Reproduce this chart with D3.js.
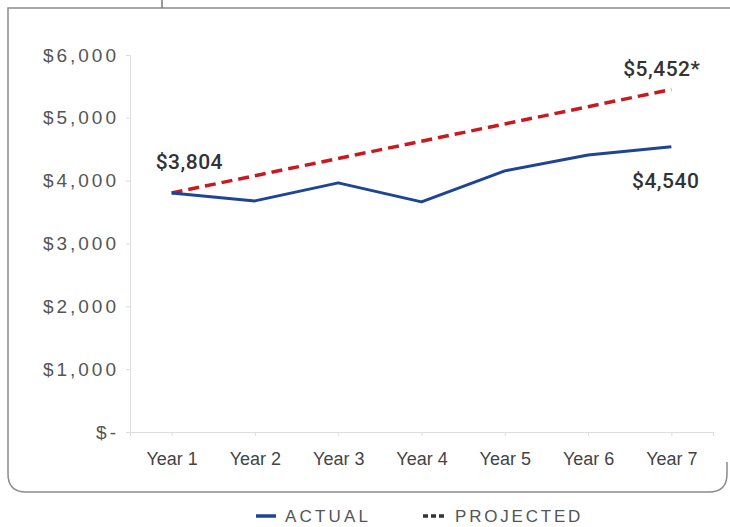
<!DOCTYPE html>
<meta charset="utf-8">
<style>
    body { margin: 0; background: #fff; }
    text { font-family: "Liberation Sans", Arial, sans-serif; }
</style>
<body>
<script src="https://cdn.jsdelivr.net/npm/d3@7"></script>
<script>

var years = ['Year 1', 'Year 2', 'Year 3', 'Year 4', 'Year 5', 'Year 6', 'Year 7'];
var actual = [3804, 3678, 3965, 3662, 4156, 4410, 4540];
var projected = [3804, 4079, 4353, 4628, 4903, 5177, 5452];
var yTicks = [0, 1000, 2000, 3000, 4000, 5000, 6000];

var width = 730, height = 527;
var blue = '#1d4594', red = '#c8191f';

var svg = d3.select('body').append('svg')
    .attr('width', width)
    .attr('height', height);

// frame round the plot
var fx0 = 8, fy0 = 8, fx1 = 727, fy1 = 492, r = 18;
svg.append('path')
    .attr('d', 'M' + width + ',' + fy0 + ' L' + fx0 + ',' + fy0 +
        ' L' + fx0 + ',' + (fy1 - r) + ' Q' + fx0 + ',' + fy1 + ' ' + (fx0 + r) + ',' + fy1 +
        ' L' + (fx1 - r) + ',' + fy1 + ' Q' + fx1 + ',' + fy1 + ' ' + fx1 + ',' + (fy1 - r) +
        ' L' + fx1 + ',' + (fy1 - 30))
    .attr('fill', 'none')
    .attr('stroke', '#8a8a8a')
    .attr('stroke-width', 1.5);
svg.append('line')
    .attr('x1', 162).attr('x2', 162).attr('y1', 0).attr('y2', fy0)
    .attr('stroke', '#777').attr('stroke-width', 1.5);

var x = d3.scalePoint()
    .domain(years)
    .range([130, 713])
    .padding(0.5);

var y = d3.scaleLinear()
    .domain([0, 6000])
    .range([432, 55]);

// y axis
var yAxis = svg.append('g')
    .attr('transform', 'translate(130,0)')
    .call(d3.axisLeft(y).tickValues(yTicks).tickSize(4).tickPadding(7)
        .tickFormat(function(d) { return d === 0 ? '$-' : '$' + d3.format(',')(d); }));
yAxis.select('.domain').attr('stroke', '#ddd');
yAxis.selectAll('.tick line').attr('stroke', '#ddd');
yAxis.selectAll('.tick text')
    .attr('fill', '#555')
    .style('font-size', '19px')
    .style('letter-spacing', '3px');

// x axis
var xAxis = svg.append('g')
    .attr('transform', 'translate(0,432)')
    .call(d3.axisBottom(x).tickSize(4).tickPadding(16));
xAxis.select('.domain').attr('stroke', '#ddd');
xAxis.selectAll('.tick line').attr('stroke', '#ddd');
xAxis.selectAll('.tick text')
    .attr('fill', '#444')
    .style('font-size', '18px');

var line = d3.line()
    .x(function(d, i) { return x(years[i]); })
    .y(function(d) { return y(d); });

svg.append('path')
    .datum(projected)
    .attr('d', line)
    .attr('fill', 'none')
    .attr('stroke', red)
    .attr('stroke-width', 3.5)
    .attr('stroke-dasharray', '11,6');

svg.append('path')
    .datum(actual)
    .attr('d', line)
    .attr('fill', 'none')
    .attr('stroke', blue)
    .attr('stroke-width', 3)
    .attr('stroke-linejoin', 'round');

// data labels
var fmt = d3.format(',');
var labels = [
    {text: '$' + fmt(actual[0]), x: x(years[0]) - 16, y: y(actual[0]) - 24, anchor: 'start'},
    {text: '$' + fmt(projected[6]) + '*', x: x(years[6]) + 29, y: y(projected[6]) - 13, anchor: 'end'},
    {text: '$' + fmt(actual[6]), x: x(years[6]) + 28, y: y(actual[6]) + 41, anchor: 'end'}
];
svg.selectAll('.dlabel')
    .data(labels)
    .enter()
    .append('text')
    .attr('class', 'dlabel')
    .attr('x', function(d) { return d.x; })
    .attr('y', function(d) { return d.y; })
    .attr('text-anchor', function(d) { return d.anchor; })
    .attr('fill', '#333')
    .style('font-family', 'Roboto, "Liberation Sans", sans-serif')
    .style('font-size', '21px')
    .style('font-weight', '500')
    .style('letter-spacing', '0.5px')
    .text(function(d) { return d.text; });

// legend
var legend = svg.append('g').attr('transform', 'translate(0,516)');
legend.append('line')
    .attr('x1', 256).attr('x2', 276).attr('y1', 0).attr('y2', 0)
    .attr('stroke', blue).attr('stroke-width', 3.5);
legend.append('text')
    .attr('x', 285).attr('y', 6)
    .attr('fill', '#555')
    .style('font-size', '17px')
    .style('letter-spacing', '3.2px')
    .text('ACTUAL');
legend.append('line')
    .attr('x1', 423).attr('x2', 444).attr('y1', 0).attr('y2', 0)
    .attr('stroke', '#333').attr('stroke-width', 3.5)
    .attr('stroke-dasharray', '5,3');
legend.append('text')
    .attr('x', 455).attr('y', 6)
    .attr('fill', '#555')
    .style('font-size', '17px')
    .style('letter-spacing', '2.8px')
    .text('PROJECTED');

</script>
</body>
